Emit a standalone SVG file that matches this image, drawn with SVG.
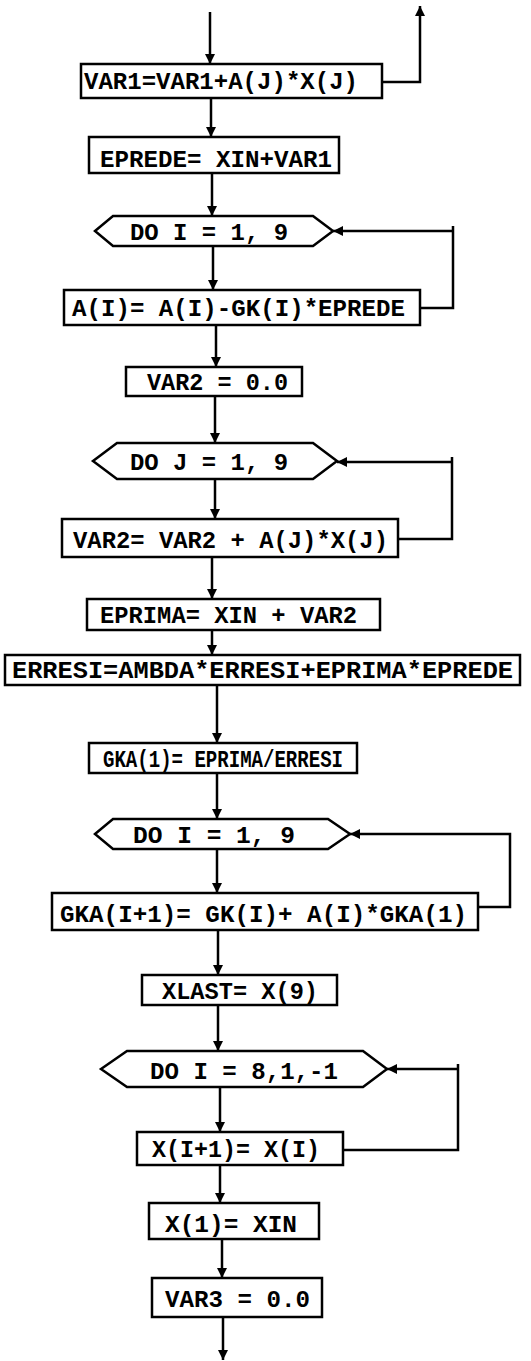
<svg xmlns="http://www.w3.org/2000/svg" width="531" height="1361" viewBox="0 0 531 1361">
<defs>
<marker id="ah" viewBox="0 0 10 10" refX="10" refY="5" markerWidth="10" markerHeight="11" markerUnits="userSpaceOnUse" orient="auto">
<path d="M0,0 L10,5 L0,10 Z" fill="#000"/>
</marker>
</defs>
<style>
.b{fill:#fff;stroke:#000;stroke-width:2.5}
.t{font-family:"Liberation Mono","Courier New",monospace;font-size:24px;font-weight:bold;fill:#000}
.c{fill:none;stroke:#000;stroke-width:2.5;marker-end:url(#ah)}
</style>
<rect width="531" height="1361" fill="#fff"/>
<g id="connectors">
<path class="c" d="M210,12 V64"/>
<path class="c" d="M382,82 H420 V6"/>
<path class="c" d="M211,98 V137"/>
<path class="c" d="M212,173 V216"/>
<path class="c" d="M213,246 V290"/>
<path class="c" d="M453,226 V308 M420,308 H453 V231 H333"/>
<path class="c" d="M216,325 V367"/>
<path class="c" d="M215,396 V443"/>
<path class="c" d="M215,479 V519"/>
<path class="c" d="M452,457 V539 M398,539 H452 V462 H337"/>
<path class="c" d="M212,557 V599"/>
<path class="c" d="M212,630 V655"/>
<path class="c" d="M217,685 V743"/>
<path class="c" d="M217,773 V819"/>
<path class="c" d="M217,849 V893"/>
<path class="c" d="M478,907 H510 V834 H350"/>
<path class="c" d="M218,930 V975"/>
<path class="c" d="M218,1005 V1051"/>
<path class="c" d="M220,1087 V1132"/>
<path class="c" d="M458,1064 V1150 M343,1150 H458 V1069 H387"/>
<path class="c" d="M220,1165 V1203"/>
<path class="c" d="M222,1239 V1278"/>
<path class="c" d="M223,1317 V1360"/>
</g>
<g id="n1"><rect class="b" x="81" y="64" width="301" height="34"/><text class="t" x="84" y="89" textLength="274" lengthAdjust="spacingAndGlyphs">VAR1=VAR1+A(J)*X(J)</text></g>
<g id="n2"><rect class="b" x="89" y="137" width="250" height="36"/><text class="t" x="100" y="167" textLength="232" lengthAdjust="spacingAndGlyphs">EPREDE= XIN+VAR1</text></g>
<g id="n3"><polygon class="b" points="95,231 113,216 313,216 333,231 313,246 113,246"/><text class="t" x="130" y="240" textLength="158" lengthAdjust="spacingAndGlyphs">DO I = 1, 9</text></g>
<g id="n4"><rect class="b" x="64" y="290" width="356" height="35"/><text class="t" x="72" y="316" textLength="333" lengthAdjust="spacingAndGlyphs">A(I)= A(I)-GK(I)*EPREDE</text></g>
<g id="n5"><rect class="b" x="126" y="367" width="176" height="29"/><text class="t" x="147" y="390" textLength="141" lengthAdjust="spacingAndGlyphs">VAR2 = 0.0</text></g>
<g id="n6"><polygon class="b" points="93,461 117,443 313,443 337,461 313,479 117,479"/><text class="t" x="130" y="470" textLength="158" lengthAdjust="spacingAndGlyphs">DO J = 1, 9</text></g>
<g id="n7"><rect class="b" x="62" y="519" width="336" height="38"/><text class="t" x="73" y="548" textLength="315" lengthAdjust="spacingAndGlyphs">VAR2= VAR2 + A(J)*X(J)</text></g>
<g id="n8"><rect class="b" x="87" y="599" width="293" height="31"/><text class="t" x="100" y="623" textLength="257" lengthAdjust="spacingAndGlyphs">EPRIMA= XIN + VAR2</text></g>
<g id="n9"><rect class="b" x="5" y="655" width="515" height="30"/><text class="t" x="12" y="678" textLength="501" lengthAdjust="spacingAndGlyphs">ERRESI=AMBDA*ERRESI+EPRIMA*EPREDE</text></g>
<g id="n10"><rect class="b" x="89" y="743" width="268" height="30"/><text class="t" x="103" y="767" textLength="240" lengthAdjust="spacingAndGlyphs">GKA(1)= EPRIMA/ERRESI</text></g>
<g id="n11"><polygon class="b" points="95,834 113,819 328,819 350,834 328,849 113,849"/><text class="t" x="133" y="843" textLength="162" lengthAdjust="spacingAndGlyphs">DO I = 1, 9</text></g>
<g id="n12"><rect class="b" x="52" y="893" width="426" height="37"/><text class="t" x="60" y="922" textLength="407" lengthAdjust="spacingAndGlyphs">GKA(I+1)= GK(I)+ A(I)*GKA(1)</text></g>
<g id="n13"><rect class="b" x="142" y="975" width="195" height="30"/><text class="t" x="162" y="999" textLength="156" lengthAdjust="spacingAndGlyphs">XLAST= X(9)</text></g>
<g id="n14"><polygon class="b" points="101,1069 127,1051 363,1051 387,1069 363,1087 127,1087"/><text class="t" x="150" y="1079" textLength="188" lengthAdjust="spacingAndGlyphs">DO I = 8,1,-1</text></g>
<g id="n15"><rect class="b" x="137" y="1132" width="206" height="33"/><text class="t" x="152" y="1157" textLength="168" lengthAdjust="spacingAndGlyphs">X(I+1)= X(I)</text></g>
<g id="n16"><rect class="b" x="149" y="1203" width="170" height="36"/><text class="t" x="165" y="1232" textLength="132" lengthAdjust="spacingAndGlyphs">X(1)= XIN</text></g>
<g id="n17"><rect class="b" x="152" y="1278" width="170" height="39"/><text class="t" x="165" y="1307" textLength="145" lengthAdjust="spacingAndGlyphs">VAR3 = 0.0</text></g>
</svg>
